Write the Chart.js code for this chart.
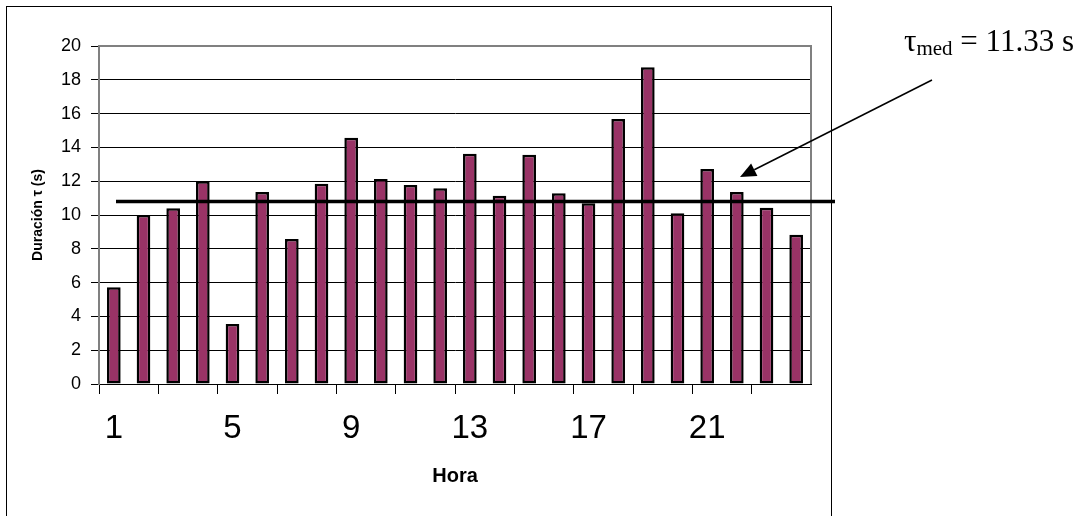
<!DOCTYPE html>
<html>
<head>
<meta charset="utf-8">
<script src="https://cdn.jsdelivr.net/npm/chart.js@4"></script>
<style>
html,body{margin:0;padding:0;background:#fff;}
canvas{display:block;}
</style>
</head>
<body>
<canvas id="c" width="1084" height="516"></canvas>
<script>
// ---- data ----
const horas = ['1','2','3','4','5','6','7','8','9','10','11','12','13','14','15','16','17','18','19','20','21','22','23','24'];
const duracion = [5.72, 10.0, 10.4, 12.0, 3.55, 11.36, 8.58, 11.85, 14.57, 12.13, 11.78, 11.58,
                  13.63, 11.14, 13.57, 11.28, 10.69, 15.68, 18.74, 10.1, 12.72, 11.36, 10.43, 8.83];
const horasConEtiqueta = ['1','5','9','13','17','21'];
const yMin = 0, yMax = 20, yStep = 2;
const lineaMedia = 10.8;            // level of the drawn horizontal line
const anotSimbolo = 'τ';
const anotSub = 'med';
const anotResto = ' = 11.33 s';
const tituloY = 'Duración τ (s)';
const tituloX = 'Hora';

const SANS = '"Liberation Sans", Arial, sans-serif';
const SERIF = '"Liberation Serif", "Times New Roman", serif';

const decor = {
  id: 'decor',
  beforeDraw(chart) {
    const ctx = chart.ctx;
    ctx.save();
    ctx.fillStyle = '#fff';
    ctx.fillRect(0, 0, chart.width, chart.height);
    ctx.restore();
  },
  beforeDatasetsDraw(chart) {
    const {ctx, chartArea: a} = chart;
    ctx.save();
    ctx.strokeStyle = '#808080';
    ctx.lineWidth = 2;
    ctx.beginPath();
    ctx.moveTo(a.left, a.top);
    ctx.lineTo(a.right, a.top);
    ctx.lineTo(a.right, a.bottom);
    ctx.stroke();
    ctx.restore();
  },
  afterDatasetsDraw(chart) {
    const {ctx, chartArea: a, scales} = chart;
    ctx.save();
    // horizontal reference line
    const yl = scales.y.getPixelForValue(lineaMedia);
    ctx.strokeStyle = '#000';
    ctx.lineWidth = 3.5;
    ctx.beginPath();
    ctx.moveTo(a.left + 17, yl);
    ctx.lineTo(a.right + 24, yl);
    ctx.stroke();

    // arrow
    const x0 = a.right + 121, y0 = a.top + 34;
    const x1 = a.right - 71, y1 = a.top + 131;
    const ang = Math.atan2(y1 - y0, x1 - x0);
    const hl = 16, hw = 7;
    const bx = x1 - hl * Math.cos(ang), by = y1 - hl * Math.sin(ang);
    ctx.lineWidth = 1.5;
    ctx.beginPath();
    ctx.moveTo(x0, y0);
    ctx.lineTo(bx, by);
    ctx.stroke();
    ctx.fillStyle = '#000';
    ctx.beginPath();
    ctx.moveTo(x1, y1);
    ctx.lineTo(bx + hw * Math.sin(ang), by - hw * Math.cos(ang));
    ctx.lineTo(bx - hw * Math.sin(ang), by + hw * Math.cos(ang));
    ctx.closePath();
    ctx.fill();

    // annotation text
    let tx = a.right + 93;
    const base = a.top + 5;
    ctx.textBaseline = 'alphabetic';
    ctx.textAlign = 'left';
    ctx.font = '31px ' + SERIF;
    ctx.fillText(anotSimbolo, tx, base);
    tx += ctx.measureText(anotSimbolo).width;
    ctx.font = '21px ' + SERIF;
    ctx.fillText(anotSub, tx, base + 4);
    tx += ctx.measureText(anotSub).width;
    ctx.font = '31px ' + SERIF;
    ctx.fillText(anotResto, tx, base);

    // outer chart border
    ctx.lineWidth = 1;
    ctx.strokeStyle = '#000';
    ctx.strokeRect(6.5, 6.5, a.right + 20 - 6, chart.height + 20);
    ctx.restore();
  }
};

new Chart(document.getElementById('c'), {
  type: 'bar',
  data: {
    labels: horas,
    datasets: [{
      data: duracion,
      backgroundColor: '#993366',
      borderColor: '#000',
      borderWidth: 2.5,
      borderSkipped: false,
      barPercentage: 0.46,
      categoryPercentage: 1.0
    }]
  },
  options: {
    responsive: false,
    animation: false,
    devicePixelRatio: 1,
    layout: { padding: { left: 0, top: 46, right: 273, bottom: 0 } },
    plugins: { legend: { display: false }, tooltip: { enabled: false } },
    scales: {
      x: {
        offset: true,
        grid: {
          offset: true,
          drawOnChartArea: false,
          drawTicks: true,
          tickLength: 10,
          color: (c) => (c.index % 2 === 0 ? '#000' : 'rgba(0,0,0,0)'),
          lineWidth: 1
        },
        border: { display: true, color: '#000', width: 1 },
        ticks: {
          autoSkip: false,
          maxRotation: 0,
          minRotation: 0,
          padding: 15,
          color: '#000',
          font: { family: SANS, size: 33 },
          callback: function(v, i) {
            const l = this.getLabelForValue(v);
            return horasConEtiqueta.includes(l) ? l : '';
          }
        },
        title: {
          display: true,
          text: tituloX,
          color: '#000',
          font: { family: SANS, size: 20, weight: 'bold' },
          padding: { top: 0, bottom: 28 }
        },
        afterFit: (s) => { s.height = 132; }
      },
      y: {
        min: yMin,
        max: yMax,
        ticks: {
          stepSize: yStep,
          padding: 10,
          color: '#000',
          font: { family: SANS, size: 18 }
        },
        grid: {
          color: '#000',
          lineWidth: 1,
          drawTicks: true,
          tickLength: 8
        },
        border: { display: true, color: '#808080', width: 2 },
        title: {
          display: true,
          text: tituloY,
          color: '#000',
          font: { family: SANS, size: 14, weight: 'bold' },
          padding: { top: 30, bottom: 0 }
        },
        afterFit: (s) => { s.width = 99; }
      }
    }
  },
  plugins: [decor]
});
</script>
</body>
</html>
